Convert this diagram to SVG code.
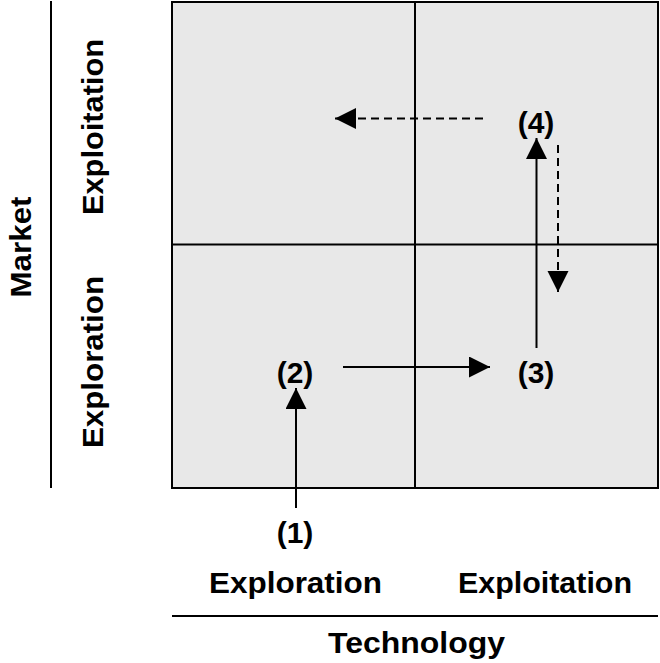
<svg xmlns="http://www.w3.org/2000/svg" width="660" height="663" viewBox="0 0 660 663">
<style>
.t{font-family:"Liberation Sans",Arial,sans-serif;font-weight:bold;font-size:30px;fill:#000;text-anchor:middle}
.ln{stroke:#000;stroke-width:2;fill:none}
.dash{stroke-dasharray:8 5}
</style>
<defs>
<marker id="ah" markerUnits="userSpaceOnUse" markerWidth="22" markerHeight="22" refX="21" refY="10.5" orient="auto">
<path d="M0,0 L21,10.5 L0,21 z" fill="#000"/>
</marker>
</defs>
<rect width="660" height="663" fill="#fff"/>
<g id="matrix">
<rect x="172" y="2" width="486" height="486" fill="#e8e8e8" stroke="#000" stroke-width="2"/>
<line class="ln" x1="415" y1="2" x2="415" y2="488"/>
<line class="ln" x1="172" y1="244.5" x2="658" y2="244.5"/>
</g>
<g id="axes">
<line class="ln" x1="51" y1="1" x2="51" y2="488"/>
<line class="ln" x1="172" y1="616" x2="658" y2="616"/>
</g>
<g id="axis-labels">
<text class="t" x="295.5" y="593" textLength="173" lengthAdjust="spacingAndGlyphs">Exploration</text>
<text class="t" x="545" y="593" textLength="174" lengthAdjust="spacingAndGlyphs">Exploitation</text>
<text class="t" x="416.5" y="653" textLength="177" lengthAdjust="spacingAndGlyphs">Technology</text>
<text class="t" transform="translate(31,247) rotate(-90)" textLength="101" lengthAdjust="spacingAndGlyphs">Market</text>
<text class="t" transform="translate(103,127) rotate(-90)" textLength="176" lengthAdjust="spacingAndGlyphs">Exploitation</text>
<text class="t" transform="translate(103,362) rotate(-90)" textLength="172" lengthAdjust="spacingAndGlyphs">Exploration</text>
</g>
<g id="n1"><text class="t" x="295" y="543">(1)</text></g>
<g id="n2"><text class="t" x="295" y="383">(2)</text></g>
<g id="n3"><text class="t" x="536" y="383">(3)</text></g>
<g id="n4"><text class="t" x="536" y="133">(4)</text></g>
<g id="connectors">
<line class="ln" x1="296" y1="508" x2="296" y2="388" marker-end="url(#ah)"/>
<line class="ln" x1="343" y1="367" x2="490" y2="367" marker-end="url(#ah)"/>
<line class="ln" x1="536.5" y1="348" x2="536.5" y2="138" marker-end="url(#ah)"/>
<line class="ln dash" x1="558" y1="145" x2="558" y2="292" marker-end="url(#ah)"/>
<line class="ln dash" x1="483" y1="118.5" x2="335" y2="118.5" marker-end="url(#ah)"/>
</g>
</svg>
